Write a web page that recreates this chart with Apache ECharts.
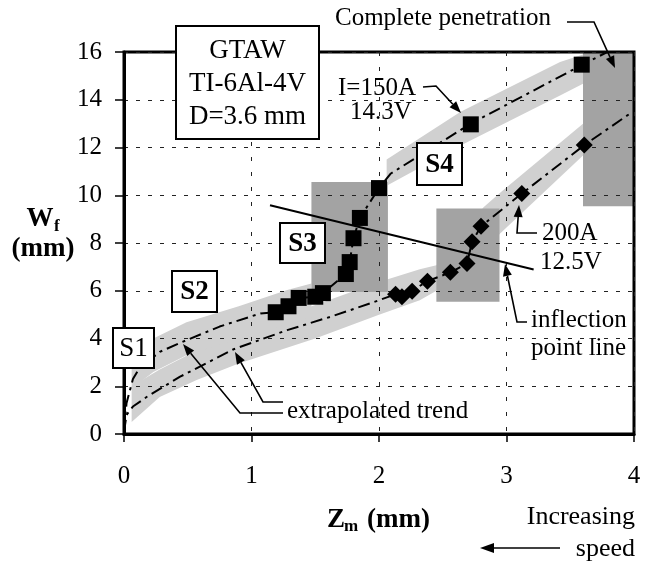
<!DOCTYPE html>
<html><head><meta charset="utf-8">
<script src="https://cdn.jsdelivr.net/npm/echarts@6/dist/echarts.min.js"></script>
<style>html,body{margin:0;padding:0;background:#fff}#c{width:650px;height:564px}</style>
</head><body><div id="c"></div>
<script>
// ---- data ----
const squaresX = [1.19, 1.29, 1.37, 1.50, 1.56, 1.74, 1.77, 1.80, 1.85, 2.00, 2.72, 3.59];
const squaresY = [5.1, 5.35, 5.7, 5.75, 5.9, 6.7, 7.2, 8.2, 9.05, 10.3, 12.97, 15.47];
const diamondsX = [2.13, 2.18, 2.26, 2.38, 2.56, 2.69, 2.73, 2.80, 3.12, 3.61];
const diamondsY = [5.85, 5.75, 5.98, 6.4, 6.77, 7.14, 8.05, 8.7, 10.07, 12.1];
const upperTrendX = [0, 0.02, 0.07, 0.12, 0.28, 0.49, 0.75, 1.07, 1.19, 1.29, 1.37, 1.5, 1.56, 1.74, 1.77, 1.8, 1.85, 2.0, 2.09, 2.72, 3.59, 3.79];
const upperTrendY = [0.1, 1.3, 2.3, 2.75, 3.44, 3.93, 4.5, 5.05, 5.1, 5.35, 5.7, 5.75, 5.9, 6.7, 7.2, 8.2, 9.05, 10.3, 10.9, 13.0, 15.45, 16.0];
const lowerTrendX = [0, 0.02, 0.07, 0.18, 0.44, 0.86, 1.28, 1.62, 1.93, 2.13, 2.18, 2.26, 2.38, 2.56, 2.69, 2.73, 2.8, 3.12, 3.61, 3.99];
const lowerTrendY = [0.1, 0.8, 1.15, 1.56, 2.4, 3.55, 4.35, 4.91, 5.47, 5.85, 5.75, 6.0, 6.4, 6.77, 7.14, 8.05, 8.7, 10.07, 12.1, 13.5];
const inflectionX = [1.145, 3.213];
const inflectionY = [9.58, 6.89];
// light bands: x, lower edge, upper edge
const lowerBandX = [0.06, 0.28, 0.57, 0.9, 1.5, 2.0, 2.32, 2.45, 2.82, 2.95, 3.6];
const lowerBandLo = [0.5, 1.55, 2.26, 2.95, 4.0, 5.0, 5.6, 6.0, 7.6, 8.4, 11.67];
const lowerBandHi = [2.0, 2.7, 3.5, 4.3, 5.4, 6.37, 6.9, 7.07, 9.5, 10.1, 13.0];
const upperBandAX = [0.06, 0.23, 0.49, 0.9, 1.28, 1.47];
const upperBandALo = [1.9, 2.6, 3.3, 4.0, 4.6, 4.9];
const upperBandAHi = [3.5, 4.0, 4.68, 5.35, 6.03, 6.3];
const upperBandBX = [2.06, 2.64, 3.42, 3.6];
const upperBandBLo = [10.4, 12.08, 14.18, 14.67];
const upperBandBHi = [11.5, 13.5, 15.58, 15.9];
// dark regions: [x0, x1, y0, y1]
const regionS3 = [1.47, 2.07, 5.95, 10.55];
const regionInflection = [2.45, 2.945, 5.54, 9.44];
const regionComplete = [3.6, 4.0, 9.54, 16.0];

// ---- chart ----
const FONT = "'Liberation Serif','Times New Roman',serif";
const bands = [
  {x: lowerBandX, lo: lowerBandLo, hi: lowerBandHi},
  {x: upperBandAX, lo: upperBandALo, hi: upperBandAHi},
  {x: upperBandBX, lo: upperBandBLo, hi: upperBandBHi}
];
const regions = [regionS3, regionInflection, regionComplete];
const zip = (a, b) => a.map((v, i) => [v, b[i]]);

function arrow(pts, head, hw) {
  head = head || 12; hw = hw || 4.5;
  const n = pts.length;
  const [x1, y1] = pts[n - 2], [x2, y2] = pts[n - 1];
  const a = Math.atan2(y2 - y1, x2 - x1);
  const bx = x2 - head * Math.cos(a), by = y2 - head * Math.sin(a);
  const linePts = pts.slice(0, n - 1).concat([[bx, by]]);
  return [
    {type: 'polyline', z: 100, shape: {points: linePts}, style: {stroke: '#000', lineWidth: 1.6, fill: null}},
    {type: 'polygon', z: 100, shape: {points: [[x2, y2], [bx + hw * Math.sin(a), by - hw * Math.cos(a)], [bx - hw * Math.sin(a), by + hw * Math.cos(a)]]}, style: {fill: '#000'}}
  ];
}
function txt(x, y, text, size, opts) {
  opts = opts || {};
  return {type: 'text', z: 101, x: x, y: y, style: {text: text, fontSize: size, fontFamily: FONT, fontWeight: opts.bold ? 'bold' : 'normal',
    textAlign: opts.align || 'left', align: opts.align || 'left', textVerticalAlign: 'middle', verticalAlign: 'middle',
    lineHeight: opts.lh || size, fill: '#000'}};
}
function box(x, y, w, h, text, size, bold, lh) {
  return [
    {type: 'rect', z: 100, shape: {x: x, y: y, width: w, height: h}, style: {fill: '#fff', stroke: '#000', lineWidth: 2}},
    txt(x + w / 2, y + h / 2 + 1, text, size, {bold: bold, align: 'center', lh: lh})
  ];
}

const graphics = [].concat(
  box(176, 26, 143, 113, 'GTAW\nTI-6Al-4V\nD=3.6 mm', 27, false, 33),
  box(417, 143, 45, 42, 'S4', 27, true),
  box(280, 223, 45, 40, 'S3', 27, true),
  box(172, 271, 45, 41, 'S2', 27, true),
  box(113, 328, 41, 40, 'S1', 27, false),
  [txt(335, 18, 'Complete penetration', 25)],
  arrow([[567, 22], [594, 22], [615, 68]]),
  [txt(338, 88, 'I=150A', 25), txt(350, 112, '14.3V', 25)],
  arrow([[423, 87], [436, 86], [461, 113]]),
  [txt(542, 233, '200A', 25), txt(540, 262, '12.5V', 25)],
  arrow([[537, 233], [517, 233], [519, 205]]),
  [txt(531, 320, 'inflection', 25), txt(531, 348, 'point line', 25)],
  arrow([[527, 322], [517, 322], [505, 264]]),
  [txt(287, 411, 'extrapolated trend', 25)],
  arrow([[283, 413], [240, 413], [183, 344]]),
  arrow([[283, 402], [263, 402], [235, 352]]),
  [txt(635, 517, 'Increasing', 26, {align: 'right'}), txt(635, 549, 'speed', 26, {align: 'right'})],
  arrow([[560, 548], [480, 548]], 14, 5),
  [txt(40, 219, 'W', 27, {bold: true, align: 'center'}), txt(54, 227, 'f', 17, {bold: true}),
   txt(43, 249, '(mm)', 27, {bold: true, align: 'center'})],
  [txt(327, 520, 'Z', 27, {bold: true}), txt(344, 527, 'm', 17, {bold: true}), txt(367, 520, '(mm)', 27, {bold: true})]
);

const chart = echarts.init(document.getElementById('c'), null, {renderer: 'canvas'});
chart.setOption({
  animation: false,
  backgroundColor: '#fff',
  grid: {left: 124, right: 16, top: 52, bottom: 130, show: true, borderColor: '#000', borderWidth: 3, backgroundColor: 'transparent', z: 1},
  xAxis: {
    type: 'value', min: 0, max: 4, interval: 1, z: 1,
    axisLine: {show: true, onZero: false, lineStyle: {color: '#000', width: 3}},
    axisTick: {show: true, inside: false, length: 8, lineStyle: {color: '#000', width: 1.5}},
    axisLabel: {margin: 30, fontSize: 25, fontFamily: FONT, color: '#000'},
    splitLine: {show: true, lineStyle: {color: '#222', width: 1, type: [4, 11]}}
  },
  yAxis: {
    type: 'value', min: 0, max: 16, interval: 2, z: 1,
    axisLine: {show: true, onZero: false, lineStyle: {color: '#000', width: 3}},
    axisTick: {show: true, inside: false, length: 9, lineStyle: {color: '#000', width: 1.5}},
    axisLabel: {margin: 22, fontSize: 25, fontFamily: FONT, color: '#000'},
    splitLine: {show: true, lineStyle: {color: '#222', width: 1, type: [4, 8]}}
  },
  series: [
    {
      type: 'custom', coordinateSystem: 'cartesian2d', z: 0, silent: true,
      data: bands.map((b) => [b.x[0], b.lo[0]]),
      renderItem: function (params, api) {
        const b = bands[params.dataIndex];
        const pts = [];
        for (let i = 0; i < b.x.length; i++) pts.push(api.coord([b.x[i], b.hi[i]]));
        for (let i = b.x.length - 1; i >= 0; i--) pts.push(api.coord([b.x[i], b.lo[i]]));
        return {type: 'polygon', shape: {points: pts}, style: {fill: '#d0d0d0'}};
      }
    },
    {
      type: 'custom', coordinateSystem: 'cartesian2d', z: 0, silent: true,
      data: regions.map((r) => [r[0], r[2]]),
      renderItem: function (params, api) {
        const r = regions[params.dataIndex];
        const p0 = api.coord([r[0], r[3]]), p1 = api.coord([r[1], r[2]]);
        return {type: 'rect', shape: {x: p0[0], y: p0[1], width: p1[0] - p0[0], height: p1[1] - p0[1]}, style: {fill: '#a3a3a3'}};
      }
    },
    {type: 'line', z: 3, data: zip(upperTrendX, upperTrendY), showSymbol: false, symbol: 'none', silent: true,
     lineStyle: {color: '#000', width: 2, type: [12, 5, 3, 5]}},
    {type: 'line', z: 3, data: zip(lowerTrendX, lowerTrendY), showSymbol: false, symbol: 'none', silent: true,
     lineStyle: {color: '#000', width: 2, type: [12, 5, 3, 5]}},
    {type: 'line', z: 3, data: zip(inflectionX, inflectionY), showSymbol: false, symbol: 'none', silent: true,
     lineStyle: {color: '#000', width: 2}},
    {type: 'scatter', z: 4, data: zip(squaresX, squaresY), symbol: 'rect', symbolSize: 16, itemStyle: {color: '#000', opacity: 1}, silent: true},
    {type: 'scatter', z: 4, data: zip(diamondsX, diamondsY), symbol: 'diamond', symbolSize: 17, itemStyle: {color: '#000', opacity: 1}, silent: true}
  ],
  graphic: {elements: graphics}
});
</script>
</body></html>
